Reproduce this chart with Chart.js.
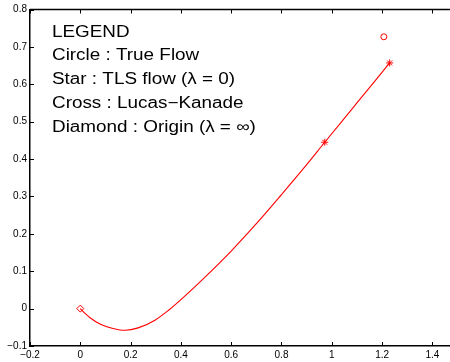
<!DOCTYPE html>
<html>
<head>
<meta charset="utf-8">
<script src="https://cdn.jsdelivr.net/npm/chart.js@4/dist/chart.umd.min.js"></script>
<style>
  html, body { margin: 0; padding: 0; background: #fff; overflow: hidden; }
  #wrap { width: 455px; height: 362px; position: relative; }
</style>
</head>
<body>
<div id="wrap"><canvas id="plot"></canvas></div>
<script>
// path traced by the estimate as lambda goes from infinity to 0
const curveX = [0, 0.02, 0.04, 0.078, 0.13, 0.178, 0.23, 0.297, 0.35, 0.4, 0.5, 0.6, 0.7, 0.8, 0.9, 0.972, 1.1, 1.23];
const curveY = [0, -0.0135, -0.025, -0.041, -0.053, -0.058, -0.0515, -0.031, -0.005, 0.024, 0.087, 0.154, 0.227, 0.305, 0.385, 0.445, 0.55, 0.657];

const trueFlow = [{ x: 1.207, y: 0.727 }];
const tlsFlow = [{ x: 0.972, y: 0.445 }, { x: 1.23, y: 0.657 }];
const origin = [{ x: 0, y: 0 }];

const xTicks = [-0.2, 0, 0.2, 0.4, 0.6, 0.8, 1, 1.2, 1.4];
const yTicks = [-0.1, 0, 0.1, 0.2, 0.3, 0.4, 0.5, 0.6, 0.7, 0.8];

const legendLines = [
  'LEGEND',
  'Circle : True Flow',
  'Star : TLS flow (\u03bb = 0)',
  'Cross : Lucas\u2212Kanade',
  'Diamond : Origin (\u03bb = \u221e)'
];

const fmt = v => {
  const s = String(Math.round(v * 10) / 10);
  return s.replace('-', '\u2212');
};

// inward tick marks plus the top edge of the box, like matlab
const boxTicks = {
  id: 'boxTicks',
  afterDraw(chart) {
    const { ctx, chartArea: a, scales: { x, y } } = chart;
    ctx.save();
    ctx.strokeStyle = '#000';
    ctx.lineWidth = 1;
    ctx.beginPath();
    xTicks.forEach(v => {
      const px = Math.round(x.getPixelForValue(v)) + 0.5;
      ctx.moveTo(px, a.bottom); ctx.lineTo(px, a.bottom - 4);
      ctx.moveTo(px, a.top); ctx.lineTo(px, a.top + 4);
    });
    yTicks.forEach(v => {
      const py = Math.round(y.getPixelForValue(v)) + 0.5;
      ctx.moveTo(a.left, py); ctx.lineTo(a.left + 4, py);
    });
    ctx.stroke();
    ctx.lineWidth = 1.5;
    ctx.beginPath();
    ctx.moveTo(a.left, a.top);
    ctx.lineTo(a.right, a.top);
    ctx.stroke();
    ctx.restore();
  }
};

const legendText = {
  id: 'legendText',
  afterDatasetsDraw(chart) {
    const { ctx, chartArea: a } = chart;
    ctx.save();
    ctx.fillStyle = '#000';
    ctx.font = '16px "Liberation Sans", Arial, sans-serif';
    ctx.textBaseline = 'alphabetic';
    ctx.translate(a.left + 22, 0);
    ctx.scale(1.18, 1);
    legendLines.forEach((t, i) => {
      ctx.fillText(t, 0, a.top + 27.2 + i * 23.75);
    });
    ctx.restore();
  }
};

const chart = new Chart(document.getElementById('plot'), {
  type: 'scatter',
  data: {
    datasets: [
      {
        data: curveX.map((v, i) => ({ x: v, y: curveY[i] })),
        showLine: true,
        borderColor: '#ff0000',
        borderWidth: 1.1,
        pointRadius: 0,
        cubicInterpolationMode: 'monotone'
      },
      {
        data: trueFlow,
        pointStyle: 'circle',
        pointRadius: 3,
        borderColor: '#ff0000',
        backgroundColor: '#fff',
        borderWidth: 1
      },
      {
        data: tlsFlow,
        pointStyle: 'star',
        pointRadius: 3.5,
        borderColor: '#ff0000',
        borderWidth: 1
      },
      {
        data: origin,
        pointStyle: 'rectRot',
        pointRadius: 3.5,
        borderColor: '#ff0000',
        backgroundColor: '#fff',
        borderWidth: 1
      }
    ]
  },
  options: {
    responsive: true,
    maintainAspectRatio: false,
    animation: false,
    layout: { padding: { top: 9.5, right: 0, left: 0, bottom: 0 } },
    plugins: { legend: { display: false }, tooltip: { enabled: false } },
    scales: {
      x: {
        type: 'linear',
        min: -0.2,
        max: 1.47,
        afterBuildTicks: s => { s.ticks = xTicks.map(v => ({ value: v })); },
        afterFit: s => { s.height = 16; },
        grid: { display: false, drawTicks: false },
        border: { display: true, color: '#000', width: 1.5 },
        ticks: {
          color: '#000',
          padding: 3,
          maxRotation: 0,
          autoSkip: false,
          font: { family: '"Liberation Sans", Arial, sans-serif', size: 10 },
          callback: v => fmt(v)
        }
      },
      y: {
        type: 'linear',
        min: -0.1,
        max: 0.8,
        afterBuildTicks: s => { s.ticks = yTicks.map(v => ({ value: v })); },
        afterFit: s => { s.width = 30; },
        grid: { display: false, drawTicks: false },
        border: { display: true, color: '#000', width: 1.5 },
        ticks: {
          z: 1,
          color: '#000',
          padding: 3,
          autoSkip: false,
          font: { family: '"Liberation Sans", Arial, sans-serif', size: 10 },
          callback: v => fmt(v)
        }
      }
    }
  },
  plugins: [boxTicks, legendText]
});
</script>
</body>
</html>
